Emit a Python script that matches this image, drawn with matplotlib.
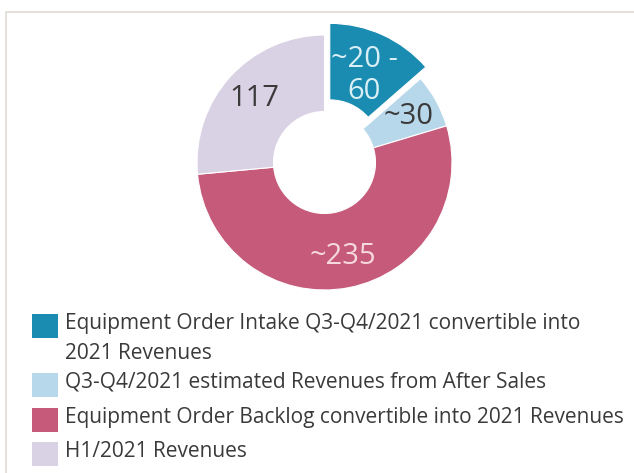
import matplotlib.pyplot as plt
from matplotlib.patches import Rectangle
import numpy as np

plt.rcParams['font.family'] = ['Open Sans', 'DejaVu Sans']

# slices, clockwise from 12 o'clock (same order as legend)
labels = ['Equipment Order Intake Q3-Q4/2021 convertible into\n2021 Revenues',
          'Q3-Q4/2021 estimated Revenues from After Sales',
          'Equipment Order Backlog convertible into 2021 Revenues',
          'H1/2021 Revenues']
values = [60, 30, 235, 117]
value_text = ['~20 -\n60', '~30', '~235', '117']
colors = ['#1a8bb1', '#b7d7ea', '#c65a7a', '#d9d1e4']
text_colors = ['#d9eff6', '#3a3a3a', '#f5d8e0', '#3a3a3a']
explode = [0.1, 0, 0, 0]

W, H = 634, 473
fig = plt.figure(figsize=(W / 100, H / 100), dpi=100)

# light frame around the panel
fig.patches.append(Rectangle((6 / W, -0.05), 1.0, 1 - 12 / H + 0.05,
                             transform=fig.transFigure, fill=False,
                             edgecolor='#e2ddd9', linewidth=1.3))

# donut axes: centre (324, 162) px, outer radius 127 px
cx, cy, r = 324.5, 162.5, 127.5
lim = 1.2
ax = fig.add_axes([(cx - r * lim) / W, 1 - (cy + r * lim) / H,
                   2 * r * lim / W, 2 * r * lim / H])
wedges, _ = ax.pie(values, colors=colors, explode=explode, startangle=90,
                   counterclock=False, radius=1.0,
                   wedgeprops=dict(width=0.6, edgecolor='white', linewidth=0.8))
ax.set_xlim(-lim, lim)
ax.set_ylim(-lim, lim)
ax.set_aspect('auto')
ax.axis('off')

for w, t, c in zip(wedges, value_text, text_colors):
    ang = np.deg2rad((w.theta1 + w.theta2) / 2)
    ax.text(0.75 * np.cos(ang), 0.75 * np.sin(ang), t, ha='center', va='center',
            fontsize=21, color=c, linespacing=1.1)

# legend
box_y = [326, 385, 420, 454]
for lab, col, y in zip(labels, colors, box_y):
    fig.patches.append(Rectangle((32 / W, 1 - (y + 12) / H), 26 / W, 24 / H,
                                 transform=fig.transFigure, facecolor=col,
                                 edgecolor='none'))
    for k, line in enumerate(lab.split('\n')):
        fig.text(65 / W, 1 - (y - 3 + 30 * k) / H, line, ha='left',
                 va='center', fontsize=15, color='#3a3a3a')

fig.savefig('out.png', dpi=100)
